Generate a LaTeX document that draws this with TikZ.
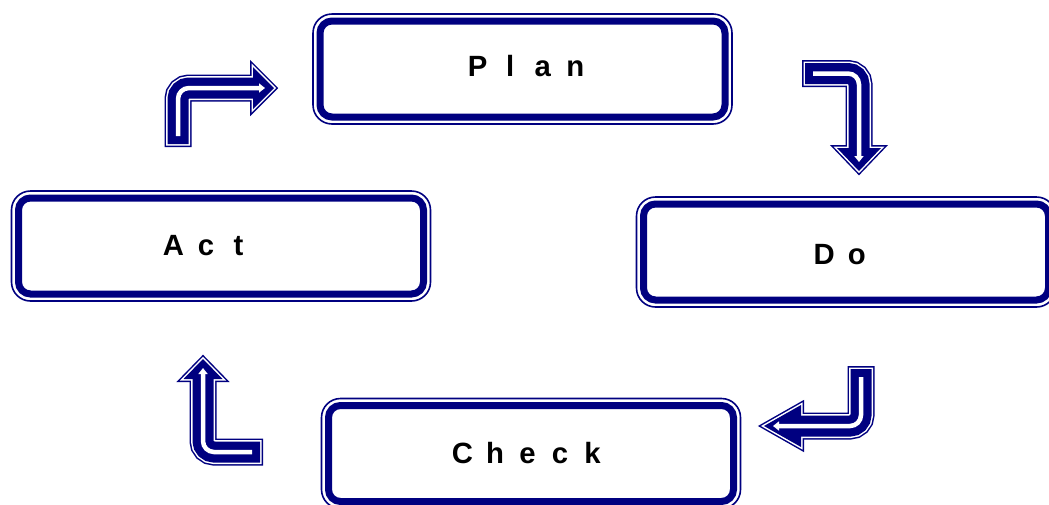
\documentclass[tikz,border=0pt]{standalone}
\usepackage{fontspec}
\setmainfont{Liberation Sans}
\usetikzlibrary{calc,arrows.meta}
\definecolor{navy}{RGB}{0,0,128}
\newcommand\cell[1]{\makebox[32.5pt]{#1}}
% block arrow: #1 prefix of coordinates (s,c,b,t), #2 head half-height
\newcommand\bkarrow[2]{%
  \coordinate (#1hl) at ($(#1b)!#2!90:(#1t)$);
  \coordinate (#1hr) at ($(#1b)!#2!-90:(#1t)$);
  \filldraw[navy, line width=6pt, miter limit=10] (#1hl) -- (#1t) -- (#1hr) -- cycle;
  \draw[navy, line width=27pt, rounded corners=11pt, shorten <=-3pt] (#1s) -- (#1c) -- (#1b);
  \filldraw[white, line width=3pt, miter limit=10] (#1hl) -- (#1t) -- (#1hr) -- cycle;
  \draw[white, line width=24pt, rounded corners=11pt, shorten <=-1.5pt] (#1s) -- (#1c) -- (#1b);
  \fill[navy] (#1hl) -- (#1t) -- (#1hr) -- cycle;
  \draw[navy, line width=21pt, rounded corners=11pt] (#1s) -- (#1c) -- (#1b);
  \draw[white, line width=4.5pt, rounded corners=11pt, shorten <=8pt, shorten >=9pt,
        -{Triangle[width=9pt,length=6pt]}] (#1s) -- (#1c) -- (#1t);
}
\tikzset{
  pbox/.style={draw=navy, line width=7pt, rounded corners=12pt, outer sep=0pt,
    inner sep=0pt, minimum width=405pt, minimum height=96pt},
  pframe/.style={draw=navy, line width=1.6pt, rounded corners=19pt},
  ptext/.style={anchor=base, inner sep=0pt, font=\fontsize{29.3}{35}\selectfont\bfseries}
}
\begin{document}
\begin{tikzpicture}[x=1pt,y=-1pt]
\useasboundingbox (0,0) rectangle (1049,504);
% boxes
\node[pbox] (plan) at (522.5,69) {};
\node[pbox] (act) at (221,246) {};
\node[pbox] (do) at (846,252) {};
\node[pbox] (check) at (531,453.5) {};
\foreach \b in {plan,act,do,check}
  \draw[pframe] ([shift={(-7pt,7pt)}]\b.north west) rectangle ([shift={(7pt,-7pt)}]\b.south east);
% texts
\node[ptext] (planT) at (526.5,76) {\cell{P}\cell{l}\cell{a}\cell{n}};
\node[ptext] (actT) at (206,255) {\cell{A}\cell{c}\cell{t}};
\node[ptext] (doT) at (840.5,264) {\cell{D}\cell{o}};
\node[ptext] (checkT) at (527.5,463) {\cell{C}\cell{h}\cell{e}\cell{c}\cell{k}};
% arrow coordinates
\coordinate (a1s) at (178,144); \coordinate (a1c) at (178,88);
\coordinate (a1b) at (253,88);  \coordinate (a1t) at (274,88);
\coordinate (a2s) at (805,73.5); \coordinate (a2c) at (859,73.5);
\coordinate (a2b) at (859,148);  \coordinate (a2t) at (859,171);
\coordinate (a3s) at (861,369); \coordinate (a3c) at (861,426);
\coordinate (a3b) at (801,426); \coordinate (a3t) at (764,426);
\coordinate (a4s) at (260,452); \coordinate (a4c) at (203,452);
\coordinate (a4b) at (203,379); \coordinate (a4t) at (203,359);
\bkarrow{a1}{21pt}
\bkarrow{a2}{22pt}
\bkarrow{a3}{21pt}
\bkarrow{a4}{19.5pt}
\end{tikzpicture}
\end{document}
